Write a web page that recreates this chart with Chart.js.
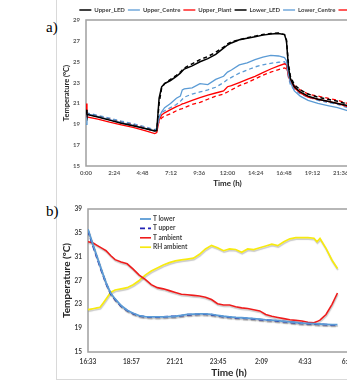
<!DOCTYPE html>
<html>
<head>
<meta charset="utf-8">
<script src="https://cdn.jsdelivr.net/npm/chart.js@4.4.1/dist/chart.umd.min.js"></script>
<style>
  html, body { margin: 0; padding: 0; background: #fff; }
  #page { position: relative; width: 347px; height: 381px; overflow: hidden; }
  .frameL { position: absolute; left: 56px; top: 0; width: 1px; height: 380px; background: #d9d9d9; }
  .frameB { position: absolute; left: 56px; top: 379px; width: 300px; height: 1px; background: #d9d9d9; }
  .tag { position: absolute; font-family: "Liberation Serif", "DejaVu Serif", serif; font-size: 15px; line-height: 15px; color: #000; }
  #chartA { position: absolute; left: 58px; top: 0; }
  #chartB { position: absolute; left: 58px; top: 195px; }
</style>
</head>
<body>
<div id="page">
  <div class="frameL"></div>
  <div class="frameB"></div>
  <div class="tag" style="left:46px; top:20px;">a)</div>
  <div class="tag" style="left:46px; top:204px;">b)</div>
  <canvas id="chartA" width="350" height="192"></canvas>
  <canvas id="chartB" width="330" height="186"></canvas>
</div>
<script>
// ---------- a) minutes since 0:00
var timeA = [0, 5, 60, 120, 180, 240, 300, 350, 360, 372, 385, 400, 430, 460, 480, 490, 500, 540, 580, 620,
             660, 700, 720, 740, 780, 820, 860, 900, 940, 980, 1010, 1020, 1030, 1040, 1060, 1090, 1130, 1180, 1230, 1280,
             1330, 1370];
var upperLED = [20.4, 19.95, 19.7, 19.4, 19.1, 18.85, 18.6, 18.35, 18.4, 21.5, 22.6, 22.9, 23.2, 23.6, 23.9, 24.1, 24.3, 24.6, 25.0, 25.3,
                25.7, 26.3, 26.6, 26.8, 27.1, 27.25, 27.4, 27.55, 27.65, 27.7, 27.6, 27.0, 24.5, 23.4, 22.6, 22.1, 21.7, 21.4, 21.2, 21.0,
                20.8, 20.6];
var upperCentre = [19.0, 20.0, 19.75, 19.45, 19.15, 18.9, 18.6, 18.35, 18.5, 19.6, 20.2, 20.6, 21.0, 21.5, 21.7, 22.3, 22.4, 22.5, 22.9, 22.8,
                   23.3, 23.6, 24.0, 24.2, 24.7, 24.9, 25.2, 25.45, 25.6, 25.55, 25.4, 25.1, 23.8, 23.0, 22.2, 21.7, 21.3, 21.0, 20.8, 20.6,
                   20.3, 20.1];
var upperPlant = [21.0, 19.7, 19.5, 19.2, 18.95, 18.7, 18.4, 18.1, 18.2, 19.4, 19.9, 20.1, 20.4, 20.7, 20.85, 20.95, 21.0, 21.3, 21.55, 21.8,
                  22.0, 22.2, 22.6, 22.7, 23.0, 23.3, 23.6, 23.95, 24.3, 24.6, 24.8, 24.7, 23.6, 23.1, 22.5, 22.0, 21.6, 21.4, 21.2, 21.0,
                  20.7, 20.5];
var lowerLED = [20.1, 20.0, 19.75, 19.45, 19.15, 18.9, 18.6, 18.4, 18.4, 21.0, 22.5, 22.9, 23.3, 23.7, 24.0, 24.2, 24.4, 24.8, 25.2, 25.5,
                25.9, 26.4, 26.7, 26.9, 27.1, 27.3, 27.45, 27.6, 27.7, 27.75, 27.6, 27.1, 24.8, 23.6, 22.8, 22.3, 21.9, 21.6, 21.4, 21.2,
                20.95, 20.75];
var lowerCentre = [20.1, 20.1, 19.85, 19.6, 19.3, 19.05, 18.75, 18.5, 18.55, 19.8, 20.1, 20.3, 20.6, 20.9, 21.2, 21.4, 21.6, 21.9, 22.1, 22.3,
                   22.55, 23.0, 23.3, 23.5, 23.9, 24.2, 24.5, 24.7, 24.85, 24.95, 25.0, 24.6, 23.5, 22.8, 22.3, 21.9, 21.6, 21.3, 21.1, 20.9,
                   20.6, 20.4];
var lowerPlant = [20.0, 20.0, 19.8, 19.5, 19.25, 19.0, 18.7, 18.45, 18.5, 19.3, 19.6, 19.8, 20.0, 20.3, 20.45, 20.5, 20.6, 20.9, 21.1, 21.4,
                  21.7, 21.9, 22.1, 22.3, 22.7, 23.0, 23.35, 23.7, 24.0, 24.25, 24.4, 24.3, 23.8, 23.3, 22.7, 22.3, 21.9, 21.7, 21.5, 21.3,
                  21.0, 20.8];

// ---------- b) minutes since 16:33
var startB = 16 * 60 + 33;
var timeB = [0, 10, 20, 30, 40, 50, 60, 75, 90, 110, 130, 150, 170, 190, 210, 230, 250, 270, 290, 310,
             330, 350, 370, 390, 410, 430, 450, 470, 490, 510, 530, 550, 570, 590, 610, 630, 650, 670, 690, 710,
             730, 750, 760, 770, 790, 810, 828];
var tLower = [35.6, 34.0, 32.5, 31.0, 29.5, 28.0, 26.6, 24.9, 23.9, 22.8, 22.0, 21.5, 21.1, 20.95, 20.9, 20.9, 20.9, 20.95, 21.0, 21.15,
              21.3, 21.35, 21.4, 21.4, 21.3, 21.15, 21.0, 20.9, 20.8, 20.75, 20.7, 20.6, 20.5, 20.4, 20.35, 20.25, 20.15, 20.05, 19.95, 19.85,
              19.8, 19.75, 19.72, 19.7, 19.65, 19.6, 19.6];
var tUpper = [35.4, 33.8, 32.3, 30.8, 29.3, 27.9, 26.5, 24.8, 23.8, 22.7, 21.95, 21.45, 21.05, 20.9, 20.85, 20.85, 20.9, 20.95, 21.0, 21.1,
              21.25, 21.3, 21.35, 21.35, 21.25, 21.1, 20.95, 20.85, 20.75, 20.7, 20.65, 20.55, 20.45, 20.35, 20.3, 20.2, 20.1, 20.0, 19.9, 19.8,
              19.75, 19.7, 19.68, 19.65, 19.6, 19.55, 19.55];
var tAmbient = [33.5, 33.4, 33.2, 32.9, 32.6, 32.3, 32.0, 31.2, 30.5, 30.1, 29.8, 28.9, 27.9, 27.2, 26.3, 25.8, 25.6, 25.3, 25.0, 24.7,
                24.6, 24.5, 24.4, 24.2, 23.8, 23.1, 22.9, 22.9, 22.6, 22.4, 22.3, 22.1, 21.9, 21.3, 21.0, 20.8, 20.6, 20.4, 20.3, 20.2,
                20.0, 19.9, 20.1, 20.35, 21.3, 23.0, 24.9];
var rhAmbient = [22.1, 22.2, 22.3, 22.4, 22.5, 23.2, 23.9, 25.0, 25.4, 25.6, 25.8, 26.3, 27.0, 27.9, 28.6, 29.1, 29.6, 30.0, 30.3, 30.45,
                 30.6, 30.75, 31.4, 32.3, 32.9, 32.5, 32.0, 32.3, 32.2, 31.75, 32.3, 32.2, 32.5, 32.8, 33.1, 32.85, 33.5, 34.0, 34.2, 34.2,
                 34.2, 34.1, 33.5, 34.05, 32.4, 30.4, 29.0];

var LEGEND_B = ['T lower', 'T upper', 'T ambient', 'RH ambient'];

function pts(xs, ys) {
  return xs.map(function (x, i) { return { x: x, y: ys[i] }; });
}
function clock(m) {
  m = ((Math.round(m) % 1440) + 1440) % 1440;
  var h = Math.floor(m / 60), mm = m % 60;
  return h + ':' + (mm < 10 ? '0' : '') + mm;
}
function line(label, xs, ys, color, dash, width) {
  return {
    label: label, data: pts(xs, ys), borderColor: color, backgroundColor: color,
    borderWidth: width, borderDash: dash || [], pointRadius: 0, tension: 0, fill: false
  };
}

// grey box round the plot area
var plotFrame = {
  id: 'plotFrame',
  beforeDatasetsDraw: function (chart) {
    var a = chart.chartArea, ctx = chart.ctx;
    ctx.save();
    ctx.strokeStyle = '#a0a0a0';
    ctx.lineWidth = 1.5;
    ctx.strokeRect(a.left, a.top, a.right - a.left, a.bottom - a.top);
    ctx.restore();
  }
};

Chart.defaults.font.family = 'Lato, "Liberation Sans", sans-serif';
Chart.defaults.color = '#404040';

// ---------- chart a
var ctxA = document.getElementById('chartA').getContext('2d');
var chartA = new Chart(ctxA, {
  type: 'line',
  data: {
    datasets: [
      line('Upper_LED', timeA, upperLED, '#000000', null, 1.5),
      line('Upper_Centre', timeA, upperCentre, '#5b9bd5', null, 1.3),
      line('Upper_Plant', timeA, upperPlant, '#ff0000', null, 1.3),
      line('Lower_LED', timeA, lowerLED, '#000000', [4, 3], 1.5),
      line('Lower_Centre', timeA, lowerCentre, '#5b9bd5', [4, 3], 1.3),
      line('Lower_Plant', timeA, lowerPlant, '#ff0000', [4, 3], 1.3)
    ]
  },
  options: {
    responsive: false,
    animation: false,
    layout: { padding: { top: 4, right: 0, left: 0, bottom: 0 } },
    plugins: {
      tooltip: { enabled: false },
      legend: {
        position: 'top',
        maxHeight: 16,
        labels: {
          usePointStyle: true, pointStyle: 'line', pointStyleWidth: 12,
          padding: 3, color: '#404040',
          font: { size: 6, weight: 'bold' }
        }
      }
    },
    scales: {
      x: {
        type: 'linear', min: 0, max: 1440,
        grid: { display: false, drawTicks: false }, border: { display: false },
        ticks: { stepSize: 144, autoSkip: false, maxRotation: 0, padding: 3, color: '#595959',
                 font: { size: 6, weight: 'bold' }, callback: function (v) { return clock(v); } },
        title: { display: true, text: 'Time (h)', color: '#262626', padding: { top: 0, bottom: 4 },
                 font: { size: 8, weight: 'bold' } },
        afterFit: function (s) { s.height = 26; }
      },
      y: {
        min: 15, max: 29,
        grid: { display: false, drawTicks: false }, border: { display: false },
        ticks: { stepSize: 2, padding: 6, color: '#595959', font: { size: 6, weight: 'bold' } },
        title: { display: true, text: 'Temperature (ºC)', color: '#262626', padding: { top: 4, bottom: 0 },
                 font: { size: 7.5, weight: 'bold' } },
        afterFit: function (s) { s.width = 28; }
      },
      // empty strip on the right so the plot ends where the original does
      yRight: {
        position: 'right', min: 15, max: 29,
        grid: { display: false, drawTicks: false }, border: { display: false },
        ticks: { display: false },
        afterFit: function (s) { s.width = 39; }
      }
    }
  },
  plugins: [plotFrame]
});

// ---------- chart b
// soft grey shadow under every series
var lineShadow = {
  id: 'lineShadow',
  beforeDatasetDraw: function (chart) {
    var ctx = chart.ctx;
    ctx.save();
    ctx.shadowColor = 'rgba(0,0,0,0.22)';
    ctx.shadowBlur = 1;
    ctx.shadowOffsetX = 0.5;
    ctx.shadowOffsetY = 1.5;
  },
  afterDatasetDraw: function (chart) {
    chart.ctx.restore();
  }
};
// legend inside the plot, one row per series
var innerLegend = {
  id: 'innerLegend',
  afterDatasetsDraw: function (chart) {
    var ctx = chart.ctx, a = chart.chartArea;
    var x0 = a.left + 52, y0 = a.top + 10;
    ctx.save();
    ctx.font = 'bold 6.5px Lato, "Liberation Sans", sans-serif';
    ctx.textBaseline = 'middle';
    chart.data.datasets.forEach(function (ds, i) {
      var y = y0 + i * 9.4;
      ctx.strokeStyle = ds.borderColor;
      ctx.lineWidth = ds.borderWidth;
      ctx.setLineDash(ds.borderDash || []);
      ctx.beginPath();
      ctx.moveTo(x0, y);
      ctx.lineTo(x0 + 11, y);
      ctx.stroke();
      ctx.setLineDash([]);
      ctx.fillStyle = '#404040';
      ctx.fillText(ds.label, x0 + 13, y);
    });
    ctx.restore();
  }
};

var ctxB = document.getElementById('chartB').getContext('2d');
var chartB = new Chart(ctxB, {
  type: 'line',
  data: {
    datasets: [
      line(LEGEND_B[0], timeB, tLower, '#5b9bd5', null, 1.8),
      line(LEGEND_B[1], timeB, tUpper, '#2323b4', [5, 3], 1.8),
      line(LEGEND_B[2], timeB, tAmbient, '#ee1c1c', null, 1.6),
      line(LEGEND_B[3], timeB, rhAmbient, '#f7ea10', null, 1.7)
    ]
  },
  options: {
    responsive: false,
    animation: false,
    layout: { padding: { top: 14, right: 18, left: 0, bottom: 0 } },
    plugins: { tooltip: { enabled: false }, legend: { display: false } },
    scales: {
      x: {
        type: 'linear', min: 0, max: 936,
        grid: { display: false, drawTicks: false }, border: { display: false },
        afterBuildTicks: function (s) {
          s.ticks = s.ticks.filter(function (t) { return t.value % 144 === 0; });
        },
        ticks: { stepSize: 144, autoSkip: false, maxRotation: 0, padding: 6, color: '#404040',
                 font: { size: 6.5, weight: 'bold' }, callback: function (v) { return clock(startB + v); } },
        title: { display: true, text: 'Time (h)', color: '#262626', padding: { top: 0, bottom: 2 },
                 font: { size: 10, weight: 'bold' } },
        afterFit: function (s) { s.height = 29; }
      },
      y: {
        min: 15, max: 39,
        grid: { display: false, drawTicks: false }, border: { display: false },
        ticks: { stepSize: 4, padding: 6, color: '#404040', font: { size: 6.5, weight: 'bold' } },
        title: { display: true, text: 'Temperature (ºC)', color: '#262626', padding: { top: 3, bottom: 0 },
                 font: { size: 10, weight: 'bold' } },
        afterFit: function (s) { s.width = 30; }
      }
    }
  },
  plugins: [plotFrame, lineShadow, innerLegend]
});
</script>
</body>
</html>
